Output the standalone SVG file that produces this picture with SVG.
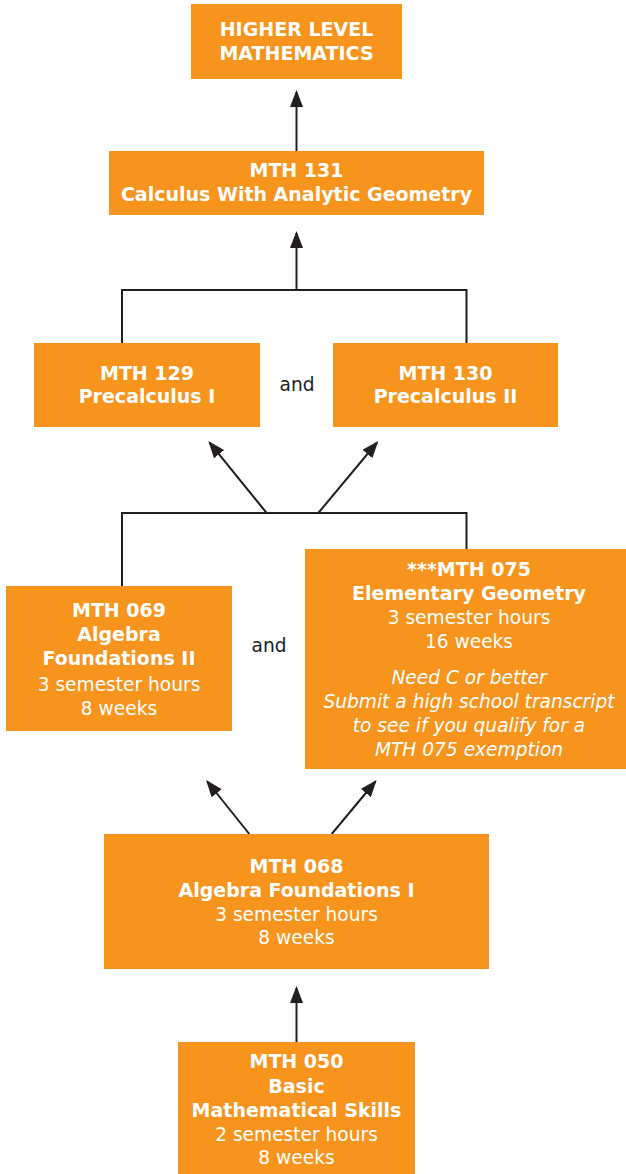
<svg xmlns="http://www.w3.org/2000/svg" width="626" height="1174" viewBox="0 0 626 1174">
<style>
.box{fill:#F7941D}
.t{font-family:"DejaVu Sans",sans-serif;fill:#fff;text-anchor:middle}
.b{font-weight:bold;font-size:19px}
.r{font-size:18.6px}
.i{font-size:18.6px;font-style:italic}
.and{font-family:"DejaVu Sans",sans-serif;font-size:18.6px;fill:#231F20;text-anchor:middle}
.ln{fill:none;stroke:#231F20;stroke-width:2}
</style>
<defs>
<marker id="ah" viewBox="0 0 17 13" refX="15" refY="6.5" markerWidth="17" markerHeight="13" markerUnits="userSpaceOnUse" orient="auto">
<path d="M0,0 L17,6.5 L0,13 z" fill="#231F20"/>
</marker>
</defs>
<g id="connectors">
<line class="ln" x1="296.5" y1="151" x2="296.5" y2="92" marker-end="url(#ah)"/>
<polyline class="ln" points="122,343 122,290 466.5,290 466.5,343"/>
<line class="ln" x1="296.5" y1="290" x2="296.5" y2="233" marker-end="url(#ah)"/>
<polyline class="ln" points="122,586 122,513 466.5,513 466.5,549"/>
<line class="ln" x1="266.7" y1="513" x2="209.6" y2="442.6" marker-end="url(#ah)"/>
<line class="ln" x1="318.3" y1="513" x2="377" y2="442.5" marker-end="url(#ah)"/>
<line class="ln" x1="249.3" y1="834" x2="207.3" y2="781.5" marker-end="url(#ah)"/>
<line class="ln" x1="331.7" y1="834" x2="375.4" y2="781.5" marker-end="url(#ah)"/>
<line class="ln" x1="296.5" y1="1042" x2="296.5" y2="988" marker-end="url(#ah)"/>
</g>
<g id="higher">
<rect class="box" x="191" y="4" width="211" height="75"/>
<text class="t b" x="296.5" y="36">HIGHER LEVEL</text>
<text class="t b" x="296.5" y="60">MATHEMATICS</text>
</g>
<g id="mth131">
<rect class="box" x="109" y="151" width="375" height="64"/>
<text class="t b" x="296.5" y="177">MTH 131</text>
<text class="t b" x="296.5" y="201">Calculus With Analytic Geometry</text>
</g>
<g id="mth129">
<rect class="box" x="34" y="343" width="226" height="84"/>
<text class="t b" x="147" y="380">MTH 129</text>
<text class="t b" x="147" y="403">Precalculus I</text>
</g>
<text class="and" x="297" y="391">and</text>
<g id="mth130">
<rect class="box" x="333" y="343" width="225" height="84"/>
<text class="t b" x="445.5" y="380">MTH 130</text>
<text class="t b" x="445.5" y="403">Precalculus II</text>
</g>
<g id="mth069">
<rect class="box" x="6" y="586" width="226" height="145"/>
<text class="t b" x="119" y="617">MTH 069</text>
<text class="t b" x="119" y="641">Algebra</text>
<text class="t b" x="119" y="665">Foundations II</text>
<text class="t r" x="119" y="691">3 semester hours</text>
<text class="t r" x="119" y="715">8 weeks</text>
</g>
<text class="and" x="269" y="652">and</text>
<g id="mth075">
<rect class="box" x="305" y="549" width="321" height="220"/>
<text class="t b" x="469" y="576">***MTH 075</text>
<text class="t b" x="469" y="600">Elementary Geometry</text>
<text class="t r" x="469" y="624">3 semester hours</text>
<text class="t r" x="469" y="648">16 weeks</text>
<text class="t i" x="469" y="684">Need C or better</text>
<text class="t i" x="469" y="708">Submit a high school transcript</text>
<text class="t i" x="469" y="732">to see if you qualify for a</text>
<text class="t i" x="469" y="756">MTH 075 exemption</text>
</g>
<g id="mth068">
<rect class="box" x="104" y="834" width="385" height="135"/>
<text class="t b" x="296.5" y="873">MTH 068</text>
<text class="t b" x="296.5" y="897">Algebra Foundations I</text>
<text class="t r" x="296.5" y="921">3 semester hours</text>
<text class="t r" x="296.5" y="944">8 weeks</text>
</g>
<g id="mth050">
<rect class="box" x="178" y="1042" width="237" height="132"/>
<text class="t b" x="296.5" y="1068">MTH 050</text>
<text class="t b" x="296.5" y="1093">Basic</text>
<text class="t b" x="296.5" y="1117">Mathematical Skills</text>
<text class="t r" x="296.5" y="1141">2 semester hours</text>
<text class="t r" x="296.5" y="1164">8 weeks</text>
</g>
</svg>
